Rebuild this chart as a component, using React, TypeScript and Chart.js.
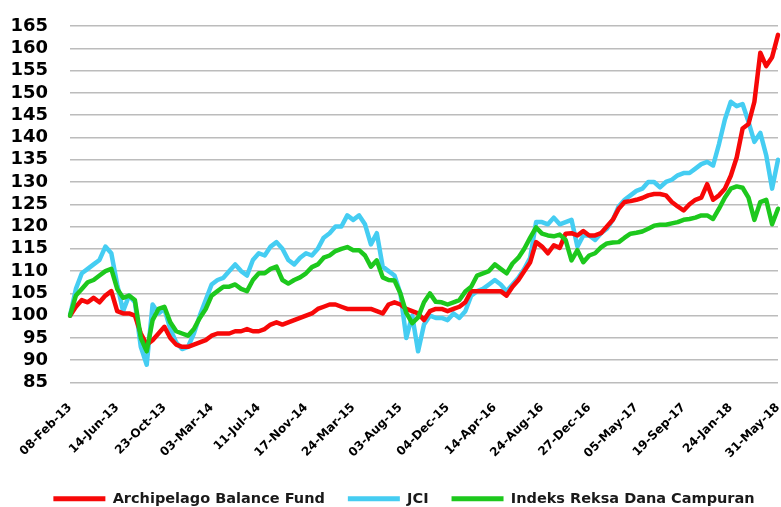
import React, { useEffect, useRef } from "react";
import { Chart, registerables } from "chart.js";

Chart.register(...registerables);

const tickLabels = [
  "08-Feb-13", "14-Jun-13", "23-Oct-13", "03-Mar-14", "11-Jul-14", "17-Nov-14",
  "24-Mar-15", "03-Aug-15", "04-Dec-15", "14-Apr-16", "24-Aug-16", "27-Dec-16",
  "05-May-17", "19-Sep-17", "24-Jan-18", "31-May-18",
];
const pointsPerTick = 8;

const archipelago = [
  100, 102, 103.5, 103, 104, 103, 104.5, 105.5,
  101, 100.5, 100.5, 100, 96, 93.5, 94.5, 96,
  97.5, 95, 93.5, 93, 93, 93.5, 94, 94.5,
  95.5, 96, 96, 96, 96.5, 96.5, 97, 96.5,
  96.5, 97, 98, 98.5, 98, 98.5, 99, 99.5,
  100, 100.5, 101.5, 102, 102.5, 102.5, 102, 101.5,
  101.5, 101.5, 101.5, 101.5, 101, 100.5, 102.5, 103,
  102.5, 101.5, 101, 100.5, 99, 101, 101.5, 101.5,
  101, 101.5, 102, 103, 105.5, 105.5, 105.5, 105.5,
  105.5, 105.5, 104.5, 106.5, 108, 110, 112, 116.5,
  115.5, 114, 115.8, 115.2, 118.4, 118.5, 118, 119,
  118, 118, 118.5, 120, 121.5, 124, 125.5, 125.7,
  126, 126.4, 127, 127.3, 127.3, 127, 125.5, 124.5,
  123.6, 125, 126, 126.5, 129.5, 126, 127, 128.5,
  131.4, 135.5, 142, 143, 148, 159, 156, 158,
  163,
];

const jci = [
  100, 106, 109.5, 110.5, 111.5, 112.5, 115.5, 114,
  107, 101, 104.5, 103, 93, 89, 102.5, 100.5,
  101.5, 97, 94, 92.5, 93, 96, 100, 103.5,
  107, 108, 108.5, 110, 111.5, 110, 109, 112.5,
  114, 113.5, 115.5, 116.5, 115, 112.5, 111.5, 113,
  114, 113.5, 115, 117.5, 118.5, 120, 120, 122.5,
  121.5, 122.5, 120.5, 116, 118.5, 111, 110, 109,
  105, 95, 100, 92, 98, 100, 99.5, 99.5,
  99, 100.5, 99.5, 101, 104.5, 105.5, 106, 107,
  108, 107, 105.5, 107, 108.5, 110.5, 113, 121,
  121, 120.5, 122, 120.5, 121, 121.5, 115.5, 118,
  118, 117, 118.5, 119.5, 121.5, 124.5, 126, 127,
  128, 128.5, 130, 130, 128.8, 130, 130.5, 131.5,
  132, 132, 133, 134, 134.5, 133.7, 138.5, 144,
  148, 147, 147.5, 143.5, 139, 141, 136, 128.5,
  135,
];

const indeksCampuran = [
  100, 104.5, 106, 107.5, 108, 109, 110, 110.5,
  106, 104, 104.5, 103.5, 95, 92, 99, 101.5,
  102, 98.5, 96.5, 96, 95.5, 97, 99.5, 101.5,
  104.5, 105.5, 106.5, 106.5, 107, 106, 105.5, 108,
  109.5, 109.5, 110.5, 111, 108, 107.2, 108, 108.6,
  109.5, 110.9, 111.5, 113, 113.5, 114.5, 115, 115.4,
  114.7, 114.7, 113.5, 111, 112.4, 108.6, 108, 107.9,
  105, 100.6, 98.3, 99.6, 103, 105, 103.1, 103,
  102.5, 103, 103.5, 105.4, 106.5, 109, 109.5, 110,
  111.5, 110.5, 109.5, 111.7, 113, 115, 117.5, 119.8,
  118.4, 118, 117.8, 118.2, 117, 112.4, 114.7, 112,
  113.5, 114, 115.3, 116.2, 116.4, 116.5, 117.5, 118.4,
  118.6, 118.9, 119.5, 120.2, 120.4, 120.4, 120.7, 121,
  121.5, 121.7, 122, 122.5, 122.5, 121.7, 124, 126.5,
  128.5, 129, 128.7, 126.5, 121.5, 125.5, 126, 120.5,
  124,
];

const seriesNames = ["Archipelago Balance Fund", "JCI", "Indeks Reksa Dana Campuran"];
const seriesColors = ["#f70808", "#45cdf2", "#1dc81d"];

const yMin = 85;
const yMax = 165;
const yStep = 5;

const shiftLegend = {
  id: "shiftLegend",
  afterLayout(chart: any) {
    const l = chart.legend;
    if (l) {
      l.left += 10;
      l.right += 10;
    }
  },
};

export default function App() {
  const canvasRef = useRef<HTMLCanvasElement | null>(null);

  useEffect(() => {
    if (!canvasRef.current) return;
    const categories = archipelago.map((_, i) =>
      i % pointsPerTick === 0 ? tickLabels[i / pointsPerTick] : ""
    );
    const seriesData = [archipelago, jci, indeksCampuran];
    const drawOrder = [1, 2, 0];
    const chart = new Chart(canvasRef.current, {
      type: "line",
      plugins: [shiftLegend],
      data: {
        labels: categories,
        datasets: seriesData.map((d, k) => ({
          label: seriesNames[k],
          data: d,
          borderColor: seriesColors[k],
          backgroundColor: seriesColors[k],
          borderWidth: 4.5,
          pointRadius: 0,
          tension: 0,
          order: drawOrder[k],
          borderJoinStyle: "round" as const,
          borderCapStyle: "round" as const,
        })),
      },
      options: {
        animation: false,
        responsive: true,
        maintainAspectRatio: false,
        layout: { padding: { left: 10, right: 3, top: 26, bottom: -9 } },
        plugins: {
          tooltip: { enabled: false },
          legend: {
            position: "bottom",
            labels: {
              boxWidth: 52,
              boxHeight: 5,
              padding: 23,
              color: "#1a1a1a",
              font: { family: "DejaVu Sans", weight: "bold", size: 14.5 },
              generateLabels: (c: any) =>
                Chart.defaults.plugins.legend.labels
                  .generateLabels(c)
                  .map((l: any) => ({ ...l, lineWidth: 0, fillStyle: l.strokeStyle }))
                  .sort((a: any, b: any) => a.datasetIndex - b.datasetIndex),
            },
          },
        },
        scales: {
          x: {
            type: "category",
            offset: false,
            grid: { display: false, drawTicks: false },
            border: { display: false },
            afterFit: (s: any) => {
              s.paddingLeft = 0;
              s.paddingRight = 0;
              s.height = 86;
            },
            ticks: {
              autoSkip: false,
              maxRotation: 45,
              minRotation: 45,
              padding: 18,
              color: "#000",
              font: { family: "DejaVu Sans", weight: "bold", size: 12 },
            },
          },
          y: {
            min: yMin,
            max: yMax,
            grid: { color: "#bcbcbc", lineWidth: 1.5, drawTicks: false },
            border: { display: false },
            afterFit: (s: any) => {
              s.paddingTop = 0;
              s.paddingBottom = 0;
              s.width = 60;
            },
            ticks: {
              stepSize: yStep,
              autoSkip: false,
              maxTicksLimit: 30,
              padding: 22,
              color: "#000",
              font: { family: "DejaVu Sans", weight: "bold", size: 18 },
            },
          },
        },
      },
    });
    return () => chart.destroy();
  }, []);

  return (
    <div style={{ position: "fixed", left: 0, top: 0, width: 781, height: 507, background: "#fff" }}>
      <canvas ref={canvasRef} />
    </div>
  );
}
